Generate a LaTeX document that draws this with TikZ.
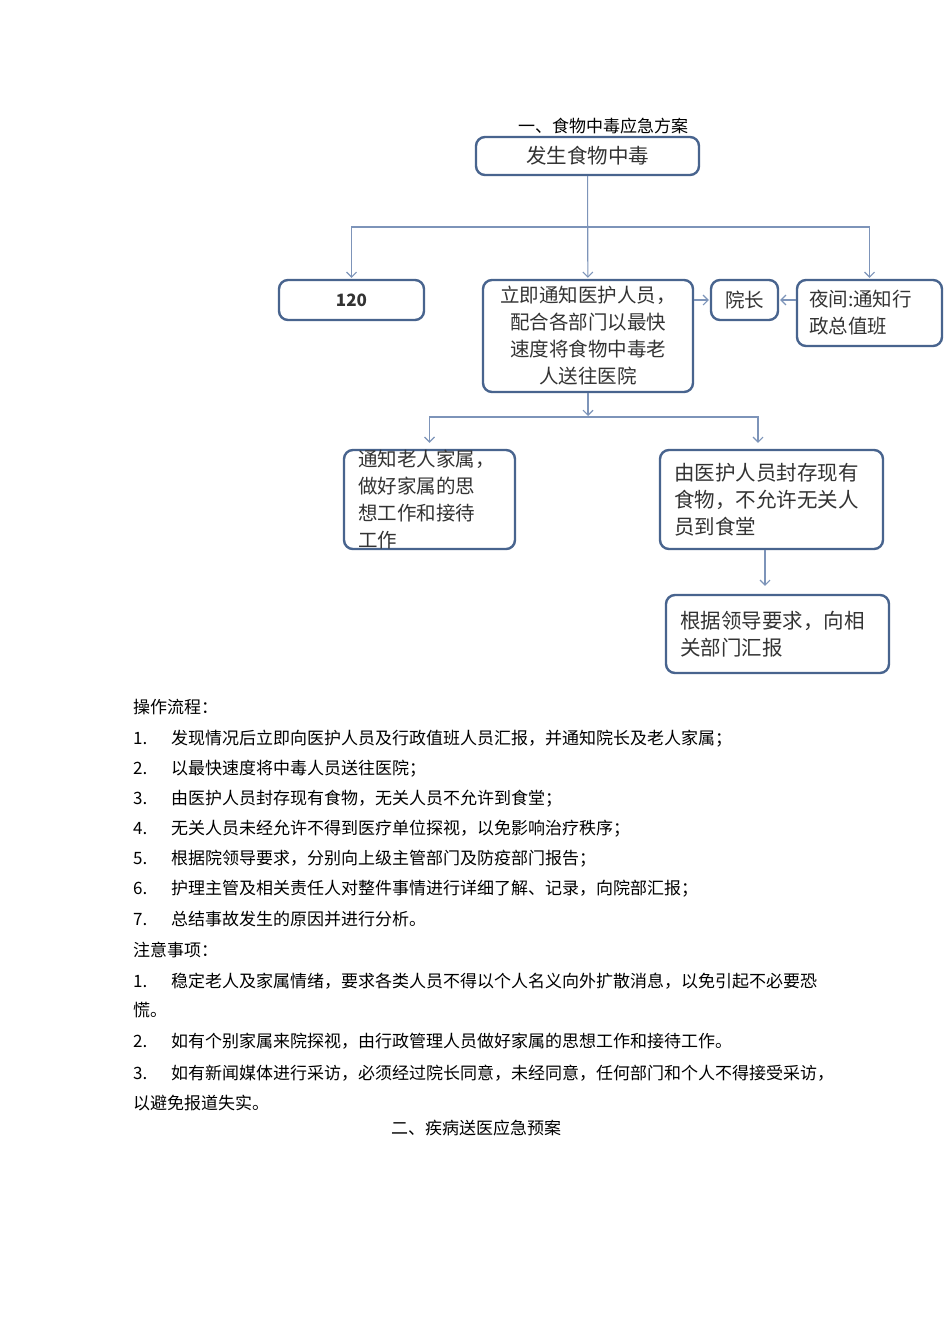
\documentclass[tikz,border=0pt]{standalone}
\usepackage{fontspec}
\setmainfont{Noto Sans CJK SC}
\usetikzlibrary{arrows.meta}
\definecolor{boxblue}{RGB}{72,100,142}
\definecolor{lineblue}{RGB}{125,148,185}

\begin{document}
\begin{tikzpicture}[x=1pt,y=-1pt,>={Straight Barb[length=5pt,width=10pt]},
  box/.style={draw=boxblue,line width=2.4pt,rounded corners=9pt,text=black!80,font=\fontsize{19.5}{27}\selectfont,inner sep=0pt},
  wide/.style={font=\fontsize{20.5}{27}\selectfont},
  conn/.style={->,draw=lineblue,line width=1.1pt,shorten >=1pt},
  body/.style={anchor=west,inner sep=0pt,font=\fontsize{17}{20}\selectfont}]

  \fill[white] (0,0) rectangle (950,1344);
  \useasboundingbox (0,0) rectangle (950,1344);

  % flowchart
  \node[inner sep=0pt,font=\fontsize{17}{20}\selectfont] (t1) at (603,126) {一、食物中毒应急方案};
  \node[box,wide,minimum width=223,minimum height=38] (1) at (587.5,156) {发生食物中毒};
  \node[box,minimum width=145,minimum height=40,font=\fontsize{17}{20}\selectfont\bfseries] (2) at (351.5,300) {120};
  \node[box,minimum width=210,minimum height=112,align=center] (3) at (588,336) {立即通知医护人员，\\配合各部门以最快\\速度将食物中毒老\\人送往医院};
  \node[box,minimum width=67,minimum height=40] (4) at (744.5,300) {院长};
  \node[box,minimum width=145,minimum height=66,text width=121,align=left] (5) at (869.5,313) {夜间:通知行\\政总值班};
  \node[box,minimum width=171,minimum height=99,text width=143,align=left] (6) at (429.5,499.5) {通知老人家属，\\做好家属的思\\想工作和接待\\工作};
  \node[box,wide,minimum width=223,minimum height=99,text width=195,align=left] (7) at (771.5,499.5) {由医护人员封存现有\\食物，不允许无关人\\员到食堂};
  \node[box,wide,minimum width=223,minimum height=78,text width=195,align=left] (8) at (777.5,634) {根据领导要求，向相\\关部门汇报};

  \coordinate (a) at (587.5,227);
  \coordinate (b) at (588,417);

  \draw[conn] (1) -- (3);
  \draw[conn] (a) -| (2);
  \draw[conn] (a) -| (5);
  \draw[conn] (4.west -| 3.east) -- (4.west);
  \draw[conn] (5.west |- 4.east) -- (4.east);
  \draw[conn] (3) -- (b);
  \draw[conn,shorten >=6pt] (b) -| (6);
  \draw[conn,shorten >=6pt] (b) -| ([xshift=-13.5pt]7.north);
  \draw[conn,shorten >=8pt] ([xshift=-6.5pt]7.south) -- ([xshift=-12.5pt]8.north);

  % text below
  \node[body] (p0) at (133,707) {操作流程：};
  \node[body] (p1) at (133,739) {\makebox[38pt][l]{1.}发现情况后立即向医护人员及行政值班人员汇报，并通知院长及老人家属；};
  \node[body] (p2) at (133,769) {\makebox[38pt][l]{2.}以最快速度将中毒人员送往医院；};
  \node[body] (p3) at (133,799) {\makebox[38pt][l]{3.}由医护人员封存现有食物，无关人员不允许到食堂；};
  \node[body] (p4) at (133,829) {\makebox[38pt][l]{4.}无关人员未经允许不得到医疗单位探视，以免影响治疗秩序；};
  \node[body] (p5) at (133,859) {\makebox[38pt][l]{5.}根据院领导要求，分别向上级主管部门及防疫部门报告；};
  \node[body] (p6) at (133,889) {\makebox[38pt][l]{6.}护理主管及相关责任人对整件事情进行详细了解、记录，向院部汇报；};
  \node[body] (p7) at (133,919) {\makebox[38pt][l]{7.}总结事故发生的原因并进行分析。};
  \node[body] (n0) at (133,950) {注意事项：};
  \node[body] (n1) at (133,981) {\makebox[38pt][l]{1.}稳定老人及家属情绪，要求各类人员不得以个人名义向外扩散消息，以免引起不必要恐};
  \node[body] (n1b) at (133,1010) {慌。};
  \node[body] (n2) at (133,1041) {\makebox[38pt][l]{2.}如有个别家属来院探视，由行政管理人员做好家属的思想工作和接待工作。};
  \node[body] (n3) at (133,1073) {\makebox[38pt][l]{3.}如有新闻媒体进行采访，必须经过院长同意，未经同意，任何部门和个人不得接受采访，};
  \node[body] (n3b) at (133,1103) {以避免报道失实。};
  \node[inner sep=0pt,font=\fontsize{17}{20}\selectfont] (t2) at (476,1128) {二、疾病送医应急预案};
\end{tikzpicture}
\end{document}
